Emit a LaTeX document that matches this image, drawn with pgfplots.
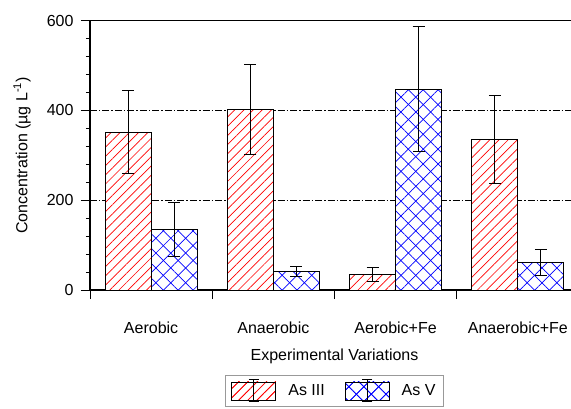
\documentclass[border=0pt]{standalone}
\usepackage{pgfplots}
\pgfplotsset{compat=1.18}
\usepackage{fontspec}
\setmainfont{Liberation Sans}
\usetikzlibrary{patterns.meta}
\tikzset{
  as3/.style={draw=black, line width=0.9bp, fill=white,
    postaction={pattern color=red, pattern={Lines[angle=45,distance=6.5bp,line width=0.7bp]}}},
  as5/.style={draw=black, line width=0.9bp, fill=white,
    postaction={pattern color=blue, pattern={Lines[angle=45,distance=10.5bp,line width=0.7bp]}},
    postaction={pattern color=blue, pattern={Lines[angle=-45,distance=10.5bp,line width=0.7bp]}}},
}
\begin{document}
\fontsize{16bp}{19bp}\selectfont
\begin{tikzpicture}
\begin{axis}[
  scale only axis,
  clip=false,
  width=489bp, height=269.3bp,
  xmin=0, xmax=4, ymin=0, ymax=600,
  xtick={0,1,2,3,4},
  x tick label as interval,
  xticklabels={Aerobic,Anaerobic,Aerobic+Fe,Anaerobic+Fe},
  ytick={0,200,400,600},
  minor y tick num=4,
  tick align=outside,
  xtick pos=left, ytick pos=left,
  major tick length=9bp, minor tick length=4bp,
  tick style={black, line width=0.9bp},
  axis line style={line width=1.3bp},
  ymajorgrids,
  major grid style={black, line width=0.8bp, dash pattern=on 7bp off 2bp on 1.5bp off 2bp},
  /pgf/number format/assume math mode=true,
  ticklabel style={font=\fontsize{16bp}{19bp}\selectfont},
  yticklabel style={xshift=-2bp},
  xticklabel style={anchor=base, yshift=-34bp},
  xlabel={Experimental Variations},
  xlabel style={at={(axis description cs:0.5,-0.26)}, anchor=base, font=\fontsize{16bp}{19bp}\selectfont},
  ylabel={Concentration (µg L\textsuperscript{-1})},
  ylabel style={at={(axis description cs:-0.139,0.5)}, anchor=center, rotate=0, font=\fontsize{16bp}{19bp}\selectfont},
  legend columns=2,
  legend style={at={(0.5,-0.3156)}, anchor=north, draw=gray!80, line width=1bp,
    font=\fontsize{16bp}{19bp}\selectfont, inner xsep=6bp, inner ysep=4bp,
    /tikz/every odd column/.append style={column sep=10bp},
    /tikz/every even column/.append style={column sep=18bp}},
  error bars/error bar style={black, line width=1bp},
  error bars/error mark options={rotate=90, mark size=6bp, line width=1bp, black},
]
\addplot[as3, ybar, bar width=0.376, bar shift=0,
  error bars/.cd, y dir=both, y explicit,
  /pgfplots/legend image code/.code={
    \draw[as3] (0bp,-9bp) rectangle (22bp,9bp);
    \draw[as3] (22bp,-9bp) rectangle (44bp,9bp);
    \draw[black, line width=1bp] (22bp,-11bp)--(22bp,11bp) (17bp,11bp)--(27bp,11bp) (17bp,-11bp)--(27bp,-11bp);
  }]
  coordinates {
  (0.312,352) +- (0,93)
  (1.312,403) +- (0,100)
  (2.312,34) +- (0,16)
  (3.312,336) +- (0,98)
};
\addlegendentry{As III}
\addplot[as5, ybar, bar width=0.376, bar shift=0,
  error bars/.cd, y dir=both, y explicit,
  /pgfplots/legend image code/.code={
    \draw[as5] (0bp,-9bp) rectangle (22bp,9bp);
    \draw[as5] (22bp,-9bp) rectangle (44bp,9bp);
    \draw[black, line width=1bp] (22bp,-11bp)--(22bp,11bp) (17bp,11bp)--(27bp,11bp) (17bp,-11bp)--(27bp,-11bp);
  }]
  coordinates {
  (0.688,135) +- (0,61)
  (1.688,41) +- (0,11)
  (2.688,447) +- (0,139)
  (3.688,62) +- (0,29)
};
\addlegendentry{As V}
% category boundary tick marks below the x axis
\addplot[forget plot, ycomb, no marks, black, line width=0.9bp]
  coordinates {(0,-20) (1,-20) (2,-20) (3,-20)};
\coordinate (O) at (rel axis cs:0,0);
\end{axis}
\pgfresetboundingbox
\path[use as bounding box] ([shift={(-90bp,-119bp)}]O) rectangle ([shift={(481bp,290bp)}]O);
\end{tikzpicture}
\end{document}
